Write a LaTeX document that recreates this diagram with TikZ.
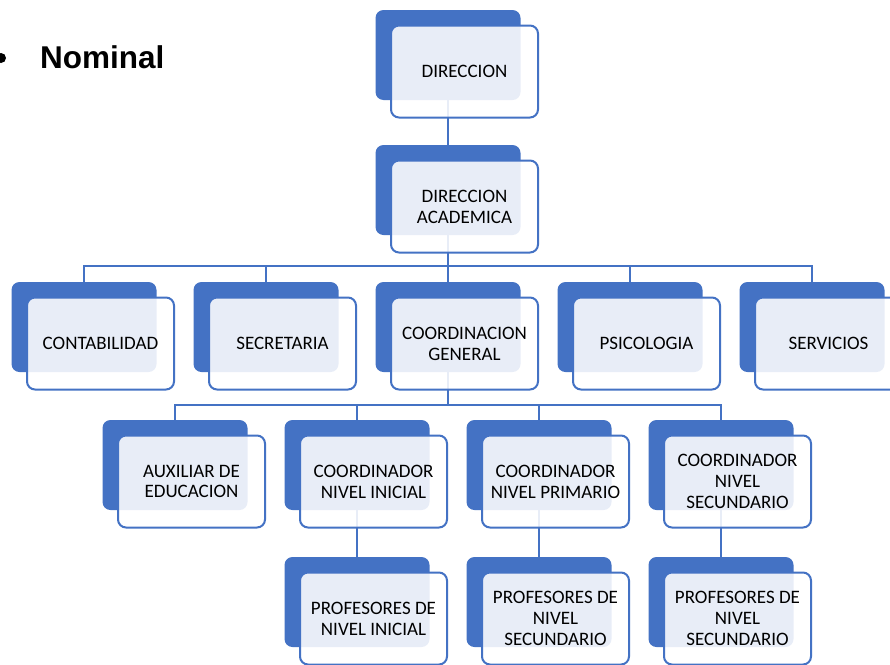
\documentclass[tikz,border=0pt]{standalone}
\usepackage{fontspec}
\setmainfont{Carlito}
\newfontfamily\headfont{Liberation Sans}
\definecolor{orgblue}{HTML}{4472C4}
\tikzset{
  backbox/.style={fill=orgblue, draw=none, rounded corners=8pt,
    minimum width=145pt, minimum height=90pt, inner sep=0pt, outer sep=0pt},
  frontbox/.style={draw=orgblue, line width=2pt, fill=white, fill opacity=0.88,
    text opacity=1, rounded corners=8pt, minimum width=147pt, minimum height=92pt,
    inner sep=2pt, outer sep=0pt, align=center, text=black,
    font=\fontsize{19}{20.8}\selectfont},
  link/.style={draw=orgblue, line width=2pt}
}
\newcommand{\orgunit}[4]{% name, bx, by, text
  \node[backbox] (#1b) at (#2+72.5, #3+45) {};
}
\newcommand{\orgfront}[4]{%
  \node[frontbox] (#1) at (#2+89, #3+61.5) {#4};
}
\begin{document}
\begin{tikzpicture}[x=1pt,y=-1pt]
\useasboundingbox (0,0) rectangle (890,664);
\fill[white] (0,0) rectangle (890,664);
% bullet heading
\fill[black] (1,58) circle (5);
\node[anchor=base west, inner sep=0pt, font=\headfont\bfseries\fontsize{31.5}{34}\selectfont] (nominal) at (40,68) {Nominal};
% back boxes
\orgunit{dir}{375.5}{10}{}
\orgunit{acad}{375.5}{145}{}
\orgunit{cont}{11.5}{282}{}
\orgunit{secr}{193.5}{282}{}
\orgunit{coord}{375.5}{282}{}
\orgunit{psic}{557.5}{282}{}
\orgunit{serv}{739.5}{282}{}
\orgunit{aux}{102.5}{420}{}
\orgunit{cini}{284.5}{420}{}
\orgunit{cpri}{466.5}{420}{}
\orgunit{csec}{648.5}{420}{}
\orgunit{pini}{284.5}{557}{}
\orgunit{ppri}{466.5}{557}{}
\orgunit{psec}{648.5}{557}{}
% connectors
\coordinate (busA) at (448,265.5);
\coordinate (busB) at (448,404.5);
\draw[link] (dirb.south) -- (acadb.north);
\draw[link] (acadb.south) |- (busA) -| (contb.north);
\draw[link] (busA) -| (secrb.north);
\draw[link] (busA) -- (coordb.north);
\draw[link] (busA) -| (psicb.north);
\draw[link] (busA) -| (servb.north);
\draw[link] (coordb.south) |- (busB) -| (auxb.north);
\draw[link] (busB) -| (cinib.north);
\draw[link] (busB) -| (cprib.north);
\draw[link] (busB) -| (csecb.north);
\draw[link] (cinib.south) -- (pinib.north);
\draw[link] (cprib.south) -- (pprib.north);
\draw[link] (csecb.south) -- (psecb.north);
% front boxes
\orgfront{dir}{375.5}{10}{DIRECCION}
\orgfront{acad}{375.5}{145}{DIRECCION\\ACADEMICA}
\orgfront{cont}{11.5}{282}{CONTABILIDAD}
\orgfront{secr}{193.5}{282}{SECRETARIA}
\orgfront{coord}{375.5}{282}{COORDINACION\\GENERAL}
\orgfront{psic}{557.5}{282}{PSICOLOGIA}
\orgfront{serv}{739.5}{282}{SERVICIOS}
\orgfront{aux}{102.5}{420}{AUXILIAR DE\\EDUCACION}
\orgfront{cini}{284.5}{420}{COORDINADOR\\NIVEL INICIAL}
\orgfront{cpri}{466.5}{420}{COORDINADOR\\NIVEL PRIMARIO}
\orgfront{csec}{648.5}{420}{COORDINADOR\\NIVEL\\SECUNDARIO}
\orgfront{pini}{284.5}{557}{PROFESORES DE\\NIVEL INICIAL}
\orgfront{ppri}{466.5}{557}{PROFESORES DE\\NIVEL\\SECUNDARIO}
\orgfront{psec}{648.5}{557}{PROFESORES DE\\NIVEL\\SECUNDARIO}
\end{tikzpicture}
\end{document}
